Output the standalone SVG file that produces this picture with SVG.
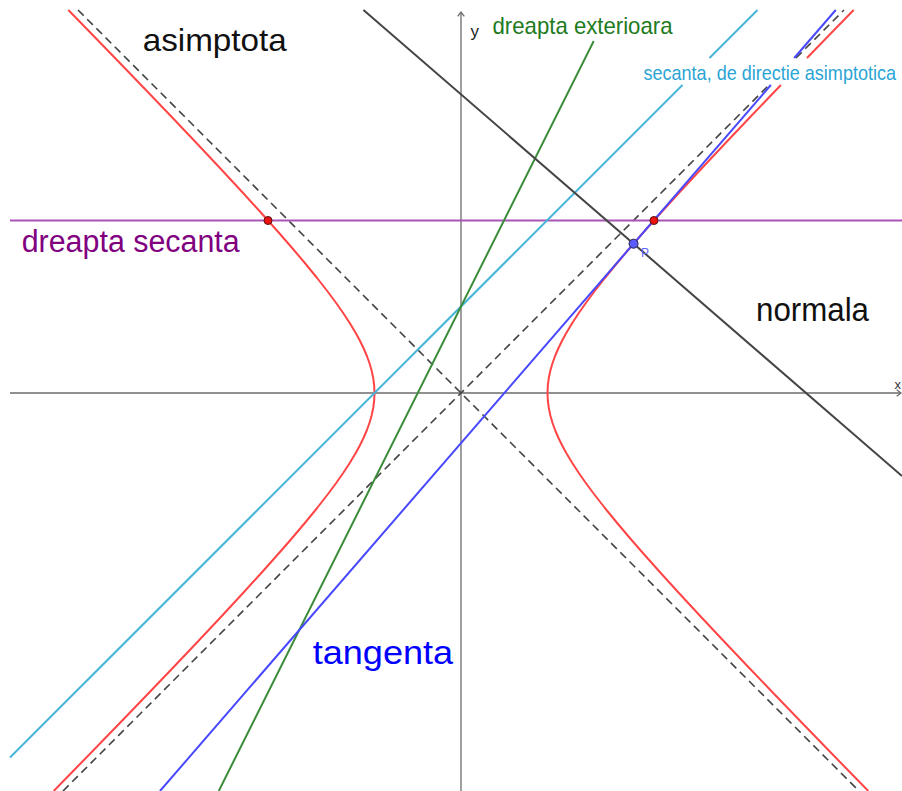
<svg xmlns="http://www.w3.org/2000/svg" width="902" height="791" viewBox="0 0 902 791">
<style>
  .axis { stroke: #6b6b6b; stroke-width: 1.3; fill: none; }
  .asym { stroke: #444444; stroke-width: 1.6; stroke-dasharray: 8 5; fill: none; }
  .hyp { stroke: #ff4545; stroke-width: 2; fill: none; stroke-linejoin: round; }
  .ln { stroke-width: 2; fill: none; }
  .lbl { font-family: "Liberation Sans", Arial, sans-serif; }
</style>
<rect x="0" y="0" width="902" height="791" fill="#ffffff"/>

<g id="axes">
  <line class="axis" x1="10" y1="393" x2="901" y2="393"/>
  <line class="axis" x1="461" y1="791" x2="461" y2="12"/>
  <polyline class="axis" points="457.7,16.3 461,12 464.3,16.3"/>
  <polyline class="axis" points="896.7,389.7 901,393 896.7,396.3"/>
  <text class="lbl" x="470.5" y="37" font-size="17" fill="#222222">y</text>
  <text class="lbl" x="894.5" y="389" font-size="13" fill="#333333">x</text>
</g>

<g id="asymptotes">
  <line class="asym" x1="78" y1="10" x2="859" y2="791"/>
  <line class="asym" x1="63" y1="791" x2="769" y2="85"/>
  <line class="asym" x1="796" y1="58" x2="844" y2="10"/>
</g>

<g id="hyperbola">
  <polyline class="hyp" points="853.65,10 845.85,18 821.53,43 806.99,58"/>
  <polyline class="hyp" points="780.92,85 773.22,93 749.28,118 725.54,143 702.05,168 678.90,193 660.71,213 642.89,233 629.84,248 617.15,263 604.90,278 593.22,293 585.83,303 578.82,313 572.28,323 566.27,333 562.19,340.5 558.51,348 555.28,355.5 552.55,363 550.38,370.5 548.79,378 547.82,385.5 547.5,393 547.82,400.5 548.79,408 550.38,415.5 552.55,423 555.28,430.5 558.51,438 562.19,445.5 566.27,453 572.28,463 578.82,473 585.83,483 593.22,493 604.90,508 617.15,523 629.84,538 642.89,553 660.71,573 678.90,593 702.05,618 725.54,643 749.28,668 773.22,693 797.31,718 821.53,743 845.85,768 868.29,791"/>
  <polyline class="hyp" points="68.35,10 76.15,18 100.47,43 124.69,68 148.78,93 172.72,118 196.46,143 219.95,168 243.10,193 261.29,213 279.11,233 292.16,248 304.85,263 317.10,278 328.78,293 336.17,303 343.18,313 349.72,323 355.73,333 359.81,340.5 363.49,348 366.72,355.5 369.45,363 371.62,370.5 373.21,378 374.18,385.5 374.5,393 374.18,400.5 373.21,408 371.62,415.5 369.45,423 366.72,430.5 363.49,438 359.81,445.5 355.73,453 349.72,463 343.18,473 336.17,483 328.78,493 317.10,508 304.85,523 292.16,538 279.11,553 261.29,573 243.10,593 219.95,618 196.46,643 172.72,668 148.78,693 124.69,718 100.47,743 76.15,768 53.71,791"/>
</g>

<g id="lines">
  <line id="secanta" class="ln" stroke="#a855b5" x1="10" y1="220.5" x2="902" y2="220.5"/>
  <g id="secanta-asimptotica" class="ln" stroke="#45b4db">
    <line x1="10" y1="757.5" x2="682.5" y2="85"/>
    <line x1="709.5" y1="58" x2="757.5" y2="10"/>
  </g>
  <line id="exterioara" class="ln" stroke="#3c8c3c" x1="218.75" y1="791" x2="593.75" y2="41"/>
  <g id="tangenta" class="ln" stroke="#4848ff">
    <line x1="160" y1="791" x2="770.86" y2="85"/>
    <line x1="794.22" y1="58" x2="835.75" y2="10"/>
  </g>
  <line id="normala" class="ln" stroke="#444444" stroke-width="1.8" x1="363.46" y1="10" x2="902" y2="475.98"/>
</g>

<g id="points">
  <circle cx="268.03" cy="220.5" r="4" fill="#ee1111" stroke="#551111" stroke-width="1"/>
  <circle cx="653.97" cy="220.5" r="4" fill="#ee1111" stroke="#551111" stroke-width="1"/>
  <circle id="P" cx="633.55" cy="243.7" r="4.5" fill="#5b5bff" stroke="#222244" stroke-width="1"/>
  <text class="lbl" x="641" y="257" font-size="12" fill="#6666ff">P</text>
</g>

<g id="labels">
  <text class="lbl" x="142.7" y="51" font-size="32" fill="#111111" textLength="144" lengthAdjust="spacingAndGlyphs">asimptota</text>
  <text class="lbl" x="492.5" y="34" font-size="24" fill="#1e7b1e" textLength="180" lengthAdjust="spacingAndGlyphs">dreapta exterioara</text>
  <text class="lbl" transform="translate(643.5,80) scale(1,1.14)" x="0" y="0" font-size="18.4" fill="#2aa5d5" textLength="252.5" lengthAdjust="spacingAndGlyphs">secanta, de directie asimptotica</text>
  <text class="lbl" x="21.7" y="251.5" font-size="31" fill="#800080" textLength="218" lengthAdjust="spacingAndGlyphs">dreapta secanta</text>
  <text class="lbl" x="756" y="320.5" font-size="34" fill="#111111" textLength="113" lengthAdjust="spacingAndGlyphs">normala</text>
  <text class="lbl" x="312.7" y="663.5" font-size="34" fill="#0000ff" textLength="140.5" lengthAdjust="spacingAndGlyphs">tangenta</text>
</g>
</svg>
